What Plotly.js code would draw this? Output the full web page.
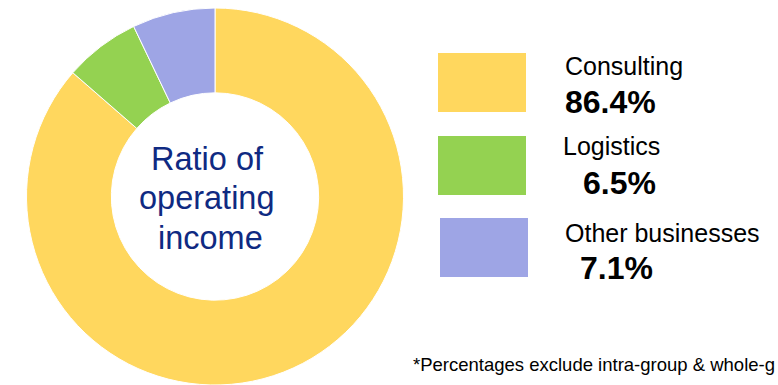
<!DOCTYPE html>
<html>
<head>
<meta charset="utf-8">
<script src="https://cdn.plot.ly/plotly-3.0.1.min.js"></script>
<style>html,body{margin:0;padding:0;background:#fff;}#chart{width:778px;height:385px;}</style>
</head>
<body>
<div id="chart"></div>
<script>
// ---- data ----
const categories = ["Consulting", "Logistics", "Other businesses"];
const shares = [86.4, 6.5, 7.1];
const sliceColors = ["#FFD75E", "#94D251", "#9EA5E5"];
const centerLines = ["Ratio of", "operating", "income"];
const footnote = "*Percentages exclude intra-group & whole-g";

// ---- layout helpers ----
const W = 778, H = 385, MT = 8;
const PH = H - MT;
const px = x => x / W;
const py = y => (H - y) / PH;
const FONT = "Liberation Sans, Arial, sans-serif";

// legend layout (pixel positions)
const legendBoxes = [
  {x0: 438, x1: 526, y0: 53, y1: 112, nameX: 563, nameY: 66, valX: 563, valY: 102},
  {x0: 438, x1: 526, y0: 136, y1: 195, nameX: 561, nameY: 146, valX: 581, valY: 183},
  {x0: 440, x1: 528, y0: 218, y1: 277, nameX: 563, nameY: 233, valX: 578, valY: 268}
];
const centerLinePos = [
  {x: 208, y: 159},
  {x: 207, y: 198},
  {x: 210, y: 238}
];

const shapes = [];
const annotations = [];
categories.forEach((c, i) => {
  const b = legendBoxes[i];
  shapes.push({type: "rect", xref: "paper", yref: "paper",
    x0: px(b.x0), x1: px(b.x1), y0: py(b.y1), y1: py(b.y0),
    fillcolor: sliceColors[i], line: {width: 0}});
  annotations.push({xref: "paper", yref: "paper", x: px(b.nameX), y: py(b.nameY),
    xanchor: "left", yanchor: "middle", showarrow: false, text: c,
    font: {family: FONT, size: 25, color: "#000"}});
  annotations.push({xref: "paper", yref: "paper", x: px(b.valX), y: py(b.valY),
    xanchor: "left", yanchor: "middle", showarrow: false,
    text: "<b>" + shares[i].toFixed(1) + "%</b>",
    font: {family: FONT, size: 32, color: "#000"}});
});
centerLines.forEach((t, i) => {
  annotations.push({xref: "paper", yref: "paper", x: px(centerLinePos[i].x), y: py(centerLinePos[i].y),
    xanchor: "center", yanchor: "middle", showarrow: false, text: t,
    font: {family: FONT, size: 32.5, color: "#0F2A82"}});
});
annotations.push({xref: "paper", yref: "paper", x: px(411), y: py(364),
  xanchor: "left", yanchor: "middle", showarrow: false, text: footnote,
  font: {family: FONT, size: 18.5, color: "#000"}});

const trace = {
  type: "pie",
  labels: categories,
  values: shares,
  hole: 0.55,
  sort: false,
  direction: "clockwise",
  rotation: 0,
  textinfo: "none",
  hoverinfo: "label+percent",
  marker: {colors: sliceColors, line: {color: "#ffffff", width: 1}},
  domain: {x: [px(26), px(404)], y: [0, 1]},
  showlegend: false
};

const layout = {
  width: W, height: H,
  margin: {l: 0, r: 0, t: MT, b: 0, pad: 0},
  paper_bgcolor: "#ffffff",
  plot_bgcolor: "#ffffff",
  showlegend: false,
  shapes: shapes,
  annotations: annotations
};

Plotly.newPlot("chart", [trace], layout, {displayModeBar: false, staticPlot: true});
</script>
</body>
</html>
